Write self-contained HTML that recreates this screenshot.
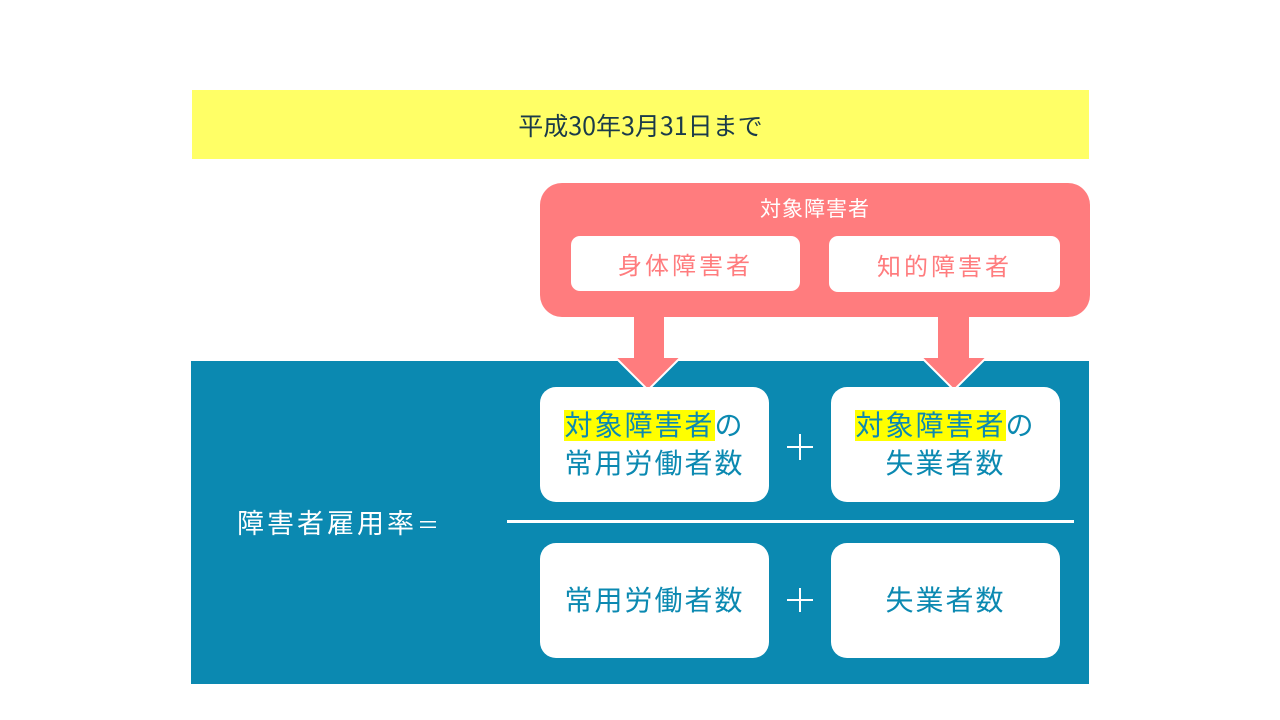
<!DOCTYPE html>
<html><head><meta charset="utf-8"><style>
body{margin:0;width:1280px;height:720px;background:#fff;position:relative;overflow:hidden;font-family:"Liberation Sans","Noto Sans CJK JP",sans-serif}
div{position:absolute;box-sizing:border-box}
.c{display:flex;align-items:center;justify-content:center;text-align:center}
.w{background:#fff;border-radius:16px}
.t{color:#0b89b1;font-size:28px;letter-spacing:2px;line-height:38px;font-weight:400}
.h{background:#ffff00}
</style></head><body>
<div class="c" style="left:192px;top:90px;width:897px;height:69px;background:#ffff66;color:#1a3a4a;font-size:25px;font-family:'Noto Sans CJK JP',sans-serif">平成30年3月31日まで</div>
<div style="left:540px;top:183px;width:550px;height:134px;background:#ff7c7e;border-radius:22px"></div>
<div class="c" style="left:540px;top:194px;width:550px;height:28px;color:#fff;font-size:21px;letter-spacing:1px;font-family:'Noto Sans CJK JP',sans-serif">対象障害者</div>
<div class="c" style="left:571px;top:236px;width:229px;height:55px;background:#fff;border-radius:9px;color:#ff7c7e;font-size:24px;letter-spacing:3px">身体障害者</div>
<div class="c" style="left:829px;top:236px;width:231px;height:56px;background:#fff;border-radius:9px;color:#ff7c7e;font-size:24px;letter-spacing:3px">知的障害者</div>
<div style="left:191px;top:361px;width:898px;height:323px;background:#0b89b1"></div>
<svg style="position:absolute;left:0;top:0" width="1280" height="720">
<polygon points="634,316 664,316 664,358 680,358 648,390 616,358 634,358" fill="#ff7c7e"/>
<polyline points="616,358 648,390 680,358" fill="none" stroke="#fff" stroke-width="2"/>
<polygon points="938,316 969,316 969,358 986,358 954,390 922,358 938,358" fill="#ff7c7e"/>
<polyline points="922,358 954,390 986,358" fill="none" stroke="#fff" stroke-width="2"/>
<path d="M800 434V460M787 447H813M800 588V612M787 600H813" stroke="#fff" stroke-width="2"/>
</svg>
<div class="w c t" style="left:540px;top:387px;width:229px;height:115px"><div style="position:static"><span class="h">対象障害者</span>の<br>常用労働者数</div></div>
<div class="w c t" style="left:831px;top:387px;width:229px;height:115px"><div style="position:static"><span class="h">対象障害者</span>の<br>失業者数</div></div>
<div style="left:507px;top:520px;width:567px;height:3px;background:#fff"></div>
<div class="w c t" style="left:540px;top:543px;width:229px;height:115px">常用労働者数</div>
<div class="w c t" style="left:831px;top:543px;width:229px;height:115px">失業者数</div>
<div style="left:237px;top:505px;width:240px;height:38px;color:#fff;font-size:27px;letter-spacing:3px;line-height:38px">障害者雇用率<span style="font-size:22px">＝</span></div>
</body></html>
